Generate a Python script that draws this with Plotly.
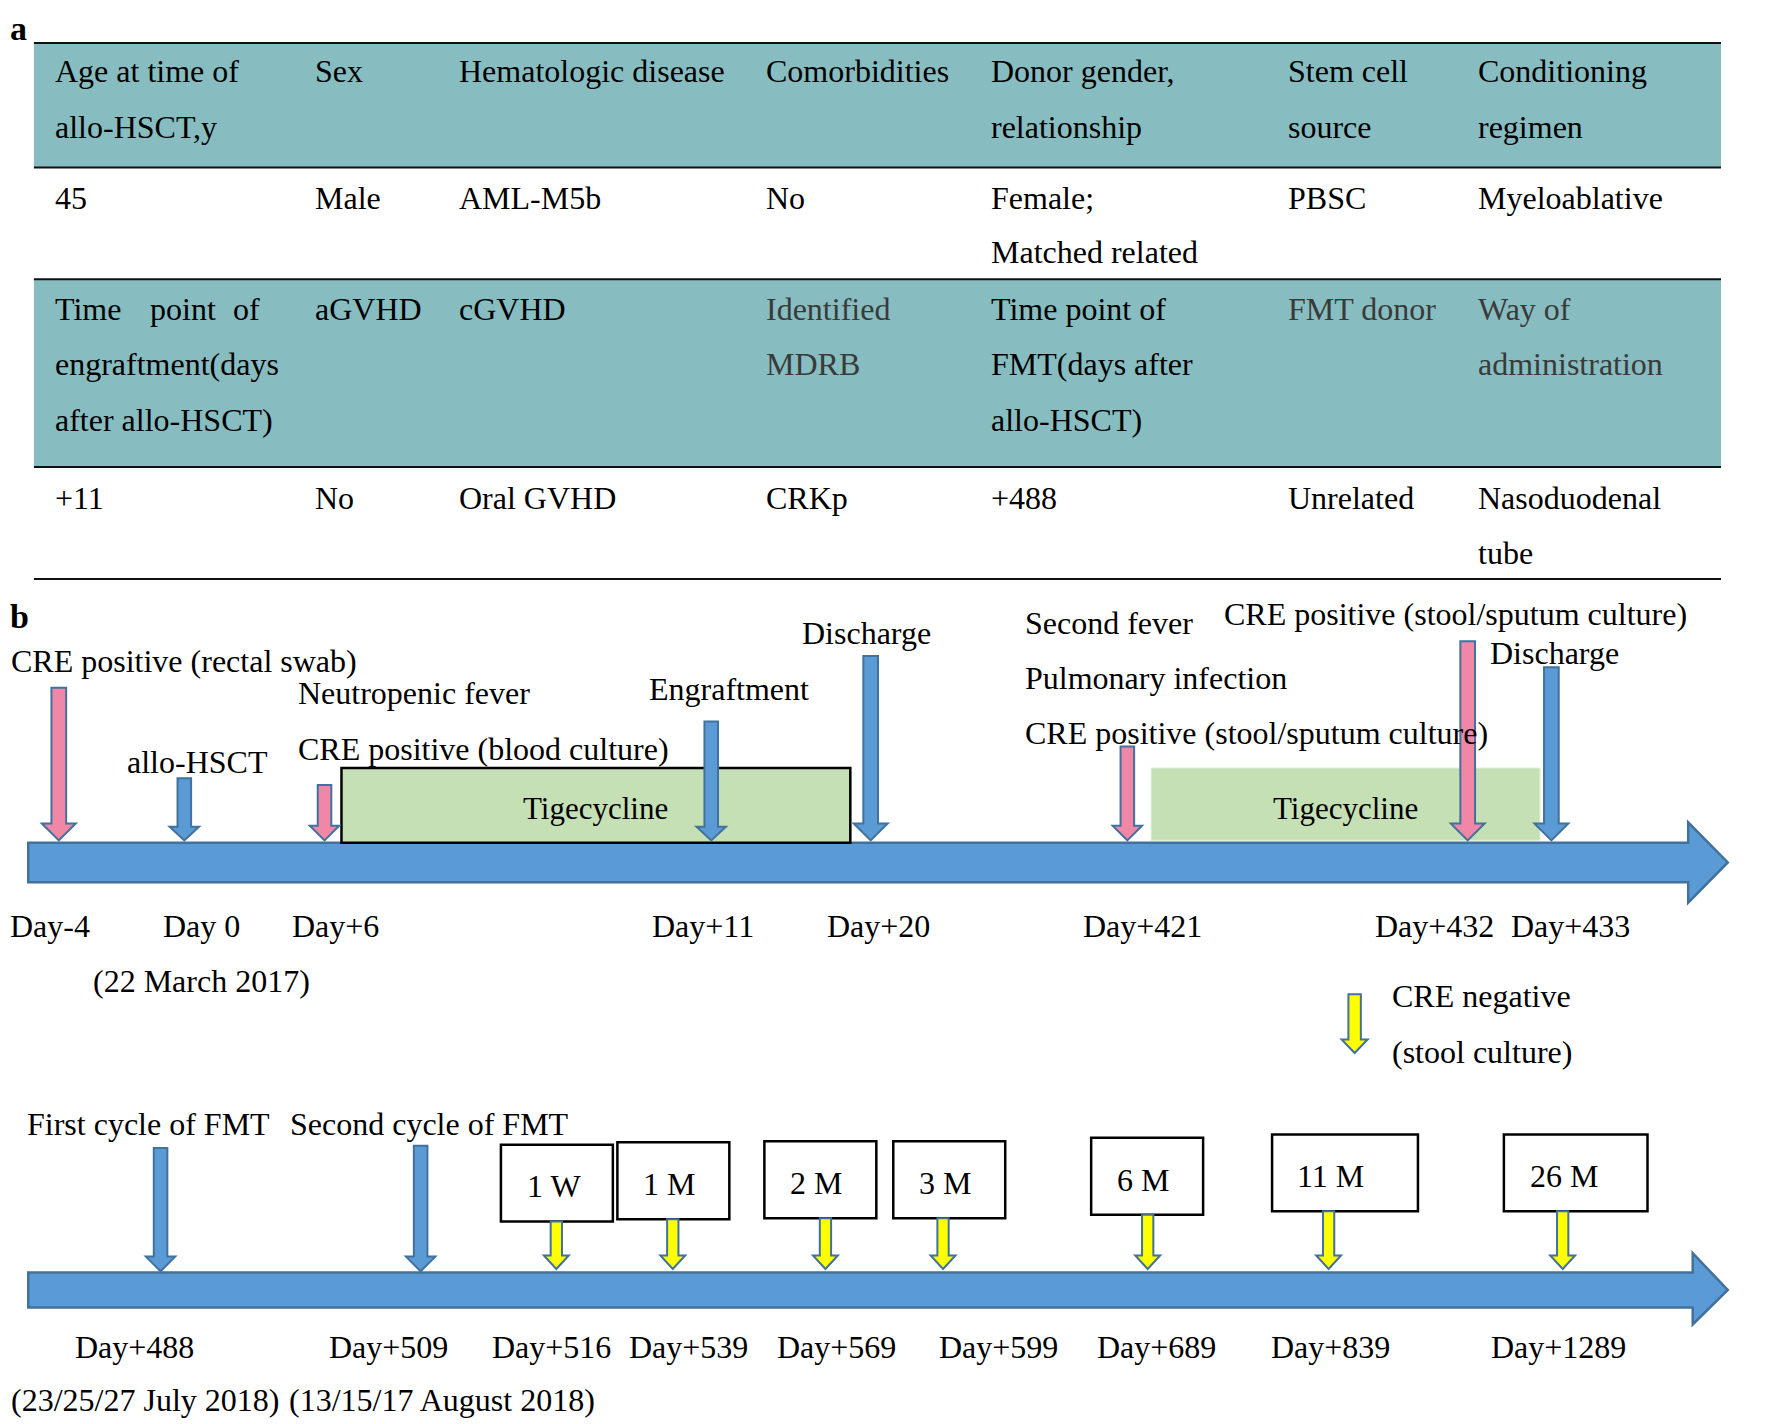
import plotly.graph_objects as go

# ---- panel a: table contents ----
header1 = [["Age at time of", "allo-HSCT,y"], ["Sex"], ["Hematologic disease"], ["Comorbidities"],
           ["Donor gender,", "relationship"], ["Stem cell", "source"], ["Conditioning", "regimen"]]
row1 = [["45"], ["Male"], ["AML-M5b"], ["No"], ["Female;", "Matched related"], ["PBSC"], ["Myeloablative"]]
header2 = [["Time point of", "engraftment(days", "after allo-HSCT)"], ["aGVHD"], ["cGVHD"],
           ["Identified", "MDRB"], ["Time point of", "FMT(days after", "allo-HSCT)"], ["FMT donor"],
           ["Way of", "administration"]]
row2 = [["+11"], ["No"], ["Oral GVHD"], ["CRKp"], ["+488"], ["Unrelated"], ["Nasoduodenal", "tube"]]
grey_cols_h2 = [3, 5, 6]

# ---- panel b: first timeline ----
top_blue_labels = ["allo-HSCT", "Engraftment", "Discharge", "Discharge"]
top_pink_labels = ["CRE positive (rectal swab)",
                   "Neutropenic fever\nCRE positive (blood culture)",
                   "Second fever\nPulmonary infection\nCRE positive (stool/sputum culture)",
                   "CRE positive (stool/sputum culture)"]
top_days = ["Day-4", "Day 0", "Day+6", "Day+11", "Day+20", "Day+421", "Day+432", "Day+433"]
top_day_note = "(22 March 2017)"
drug = ["Tigecycline", "Tigecycline"]

# ---- panel b: second timeline ----
fmt_labels = ["First cycle of FMT", "Second cycle of FMT"]
fmt_dates = ["(23/25/27 July 2018)", "(13/15/17 August 2018)"]
followup = ["1 W", "1 M", "2 M", "3 M", "6 M", "11 M", "26 M"]
bottom_days = ["Day+488", "Day+509", "Day+516", "Day+539", "Day+569", "Day+599", "Day+689", "Day+839", "Day+1289"]
legend_text = ["CRE negative", "(stool culture)"]

# ---- layout positions (canvas units, 1568 x 1259) ----
col_x = [47, 277, 404, 676, 875, 1137, 1305]
h1_y = [63, 112]
r1_y = [175, 223]
h2_y = [273, 322, 371]
r2_y = [440, 489]
rule_y = [38, 148, 247, 413, 512]

top_blue_x = [163, 629, 770, 1372]
top_blue_top = [688, 638, 580, 590]
top_pink_x = [52, 287, 997, 1298]
top_pink_top = [608, 694, 660, 567]
top_day_x = [44, 178, 297, 622, 777, 1010, 1269, 1389]
drug_x0 = [302, 1018]
drug_x1 = [752, 1362]

fmt_x = [142, 372]
fmt_top = [1015, 1013]
fmt_label_x = [22, 255]
fmt_date_x = [128, 391]
box_x0 = [443, 546, 676, 790, 965, 1125, 1330]
box_x1 = [542, 645, 775, 889, 1064, 1254, 1457]
box_y0 = [1012, 1010, 1009, 1009, 1006, 1003, 1003]
box_txt_x = [490, 592, 722, 836, 1011, 1177, 1383]
yel_x = [492, 595, 730, 834, 1015, 1175, 1382]
bottom_day_x = [119, 344, 488, 609, 740, 883, 1023, 1177, 1378]

FONT = "Liberation Serif, Times New Roman, serif"
FS = 32
TEAL = "#87BDC0"
BLUE = "#5B9BD5"
EDGE = "#41719C"
PINK = "#F087A6"
YELLOW = "#FFFF00"
GREEN = "#C5E0B4"

shapes = []
annotations = []


def txt(s, x, y, anchor="left", size=FS, color="black", bold=False):
    if bold:
        s = "<b>" + s + "</b>"
    annotations.append(dict(text=s, x=x, y=y, xref="x", yref="y", xanchor=anchor, yanchor="middle",
                            showarrow=False, font=dict(family=FONT, size=size, color=color)))


def down_arrow(x, y_top, y_tip, fill, shaft=12, head=27, head_h=13):
    yb = y_tip - head_h
    p = (f"M {x - shaft / 2},{y_top} L {x + shaft / 2},{y_top} L {x + shaft / 2},{yb} "
         f"L {x + head / 2},{yb} L {x},{y_tip} L {x - head / 2},{yb} L {x - shaft / 2},{yb} Z")
    shapes.append(dict(type="path", path=p, xref="x", yref="y", fillcolor=fill,
                       line=dict(color=EDGE, width=2), layer="above"))


def timeline(y0, y1, hy0, hy1, x_base, x_tip=1528, x_start=25):
    yc = (y0 + y1) / 2
    p = (f"M {x_start},{y0} L {x_base},{y0} L {x_base},{hy0} L {x_tip},{yc} "
         f"L {x_base},{hy1} L {x_base},{y1} L {x_start},{y1} Z")
    shapes.append(dict(type="path", path=p, xref="x", yref="y", fillcolor=BLUE,
                       line=dict(color=EDGE, width=2.5), layer="above"))


# ---- table ----
txt("a", 16, 25, anchor="center", size=34, bold=True)
for a, b in [(rule_y[0], rule_y[1]), (rule_y[2], rule_y[3])]:
    shapes.append(dict(type="rect", x0=30, x1=1522, y0=a, y1=b, xref="x", yref="y",
                       fillcolor=TEAL, line=dict(width=0), layer="below"))
for y in rule_y:
    shapes.append(dict(type="line", x0=30, x1=1522, y0=y, y1=y, xref="x", yref="y",
                       line=dict(color="#111111", width=2)))

for block, ys, greys in [(header1, h1_y, []), (row1, r1_y, []), (header2, h2_y, grey_cols_h2), (row2, r2_y, [])]:
    for ci, lines in enumerate(block):
        col = "#3a3a3a" if ci in greys else "black"
        for li, line in enumerate(lines):
            if block is header2 and ci == 0 and li == 0:
                # justified first line
                w = line.split()
                txt(w[0], col_x[0], ys[0])
                txt(w[1], 162, ys[0], anchor="center")
                txt(w[2], 232, ys[0], anchor="right")
            else:
                txt(line, col_x[ci], ys[li], color=col)

# ---- first timeline ----
txt("b", 17, 545, anchor="center", size=34, bold=True)
timeline(745, 780, 727, 798, 1493)
shapes.append(dict(type="rect", x0=drug_x0[0], x1=drug_x1[0], y0=679, y1=745, xref="x", yref="y",
                   fillcolor=GREEN, line=dict(color="black", width=2.5), layer="above"))
shapes.append(dict(type="rect", x0=drug_x0[1], x1=drug_x1[1], y0=679, y1=743, xref="x", yref="y",
                   fillcolor=GREEN, line=dict(color="#E2EFDA", width=1), layer="above"))
for i, d in enumerate(drug):
    txt(d, (drug_x0[i] + drug_x1[i]) / 2, 715, anchor="center", size=31)

for x, t in zip(top_blue_x, top_blue_top):
    big = (742 - t) > 120
    down_arrow(x, t, 743, BLUE, shaft=13 if big else 12, head=30 if big else 26, head_h=15 if big else 12)
for x, t in zip(top_pink_x, top_pink_top):
    big = (742 - t) > 120
    down_arrow(x, t, 743, PINK, shaft=13 if big else 12, head=30 if big else 26, head_h=15 if big else 13)

# labels of the first timeline
txt(top_pink_labels[0], 163, 584, anchor="center")
nf = top_pink_labels[1].split("\n")
txt(nf[0], 262, 613)
txt(nf[1], 262, 662)
sf = top_pink_labels[2].split("\n")
for line, y in zip(sf, [551, 599, 648]):
    txt(line, 905, y)
txt(top_pink_labels[3], 1081, 543)
txt(top_blue_labels[0], 175, 674, anchor="center")
txt(top_blue_labels[1], 645, 609, anchor="center")
txt(top_blue_labels[2], 766, 560, anchor="center")
txt(top_blue_labels[3], 1375, 577, anchor="center")

for d, x in zip(top_days, top_day_x):
    txt(d, x, 819, anchor="center")
txt(top_day_note, 178, 867, anchor="center")

# legend
down_arrow(1198, 879, 931, YELLOW, shaft=11, head=23, head_h=12)
txt(legend_text[0], 1229, 881)
txt(legend_text[1], 1229, 930)

# ---- second timeline ----
timeline(1125, 1156, 1108, 1171, 1497)
for x, t in zip(fmt_x, fmt_top):
    down_arrow(x, t, 1124, BLUE, shaft=12, head=26, head_h=13)
for s, x in zip(fmt_labels, fmt_label_x):
    txt(s, x, 994)
for s, x in zip(fmt_dates, fmt_date_x):
    txt(s, x, 1238, anchor="center")

for i, s in enumerate(followup):
    shapes.append(dict(type="rect", x0=box_x0[i], x1=box_x1[i], y0=box_y0[i], y1=box_y0[i] + 68,
                       xref="x", yref="y", fillcolor="white", line=dict(color="black", width=2.5),
                       layer="above"))
    txt(s, box_txt_x[i], box_y0[i] + 37, anchor="center")
    down_arrow(yel_x[i], box_y0[i] + 68, 1122, YELLOW, shaft=10, head=22, head_h=12)

for d, x in zip(bottom_days, bottom_day_x):
    txt(d, x, 1191, anchor="center")

# the page body adds an 8px margin, so the canvas is shrunk by 8px and the
# ranges start 8px (in canvas units) later to keep every mark where it belongs
off = 8 * 1568 / 1773
fig = go.Figure(go.Scatter(x=[0], y=[0], mode="markers", marker=dict(opacity=0), hoverinfo="skip",
                           showlegend=False))
fig.update_layout(
    width=1765, height=1416,
    margin=dict(l=0, r=0, t=0, b=0),
    paper_bgcolor="white", plot_bgcolor="white",
    xaxis=dict(range=[off, 1568], visible=False, fixedrange=True),
    yaxis=dict(range=[1259, off], visible=False, fixedrange=True),
    shapes=shapes, annotations=annotations,
    showlegend=False,
)
fig.write_html("out.html")
